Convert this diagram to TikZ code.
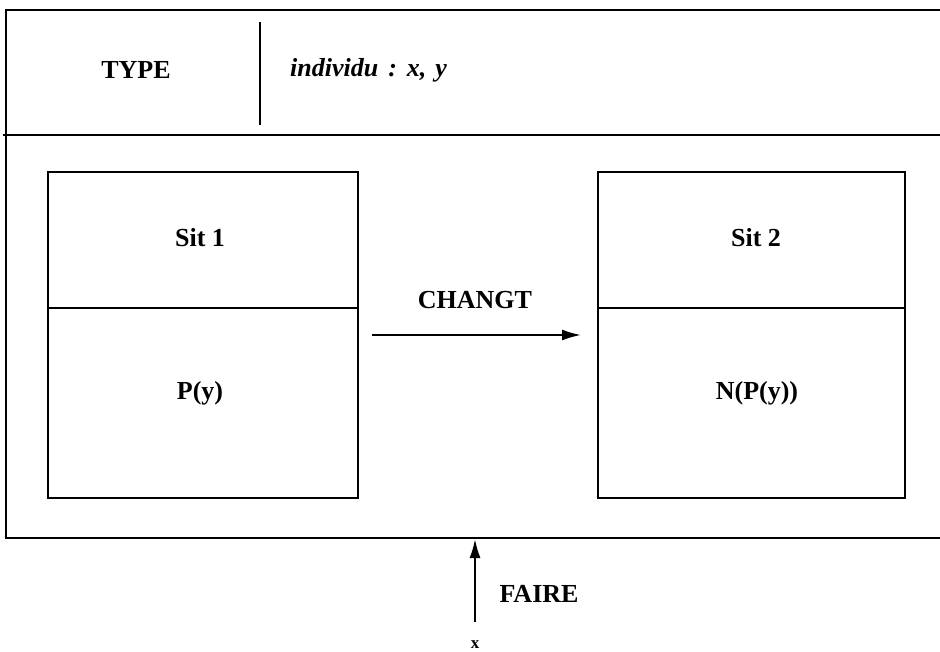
\documentclass[tikz,border=0pt]{standalone}
\usepackage{fontspec}
\setmainfont{Liberation Serif}
\usetikzlibrary{arrows.meta}
\begin{document}
\begin{tikzpicture}[x=1pt,y=-1pt,
  frame/.style={line width=2.4pt},
  lbl/.style={font=\fontsize{26}{30}\selectfont\bfseries, inner sep=0pt},
  sitbox/.style={draw, line width=2.4pt, minimum width=310pt, minimum height=136pt, inner sep=0pt},
  predbox/.style={draw, line width=2.4pt, minimum width=310pt, minimum height=190pt, inner sep=0pt},
  arr/.style={line width=2pt, -{Latex[length=19pt,width=11pt]}}]
\useasboundingbox (0,0) rectangle (940,651);
% outer frame
\draw[frame] (940,10) -- (6,10) -- (6,538) -- (940,538);
\draw[frame] (3,135) -- (940,135);
\draw[frame] (260,22) -- (260,125);
\node[lbl] (type) at (136,70) {TYPE};
\node[lbl, anchor=west] (indiv) at (290,70) {\itshape individu\hspace{10pt}:\hspace{10pt}x,\hspace{9pt}y};
% situation 1
\node[sitbox] (s1) at (203,240) {};
\node[predbox] (p1) at (203,403) {};
\node[lbl] (s1t) at (200,238) {Sit 1};
\node[lbl] (p1t) at (200,393) {P(y)};
% situation 2
\node[sitbox, minimum width=307pt] (s2) at (751.5,240) {};
\node[predbox, minimum width=307pt] (p2) at (751.5,403) {};
\node[lbl] (s2t) at (756,238) {Sit 2};
\node[lbl] (p2t) at (757,393) {N(P(y))};
% change arrow
\coordinate (cs) at (372,335);
\coordinate (ce) at (581,335);
\draw[arr] (cs) -- (ce);
\node[lbl] (chg) at (475,300) {CHANGT};
% faire
\node[font=\fontsize{17}{20}\selectfont\bfseries, inner sep=0pt] (x) at (475,645) {x};
\coordinate (ft) at (475,539);
\coordinate (fb) at (475,622);
\draw[arr] (fb) -- (ft);
\node[lbl] (faire) at (539,594) {FAIRE};
\end{tikzpicture}
\end{document}
